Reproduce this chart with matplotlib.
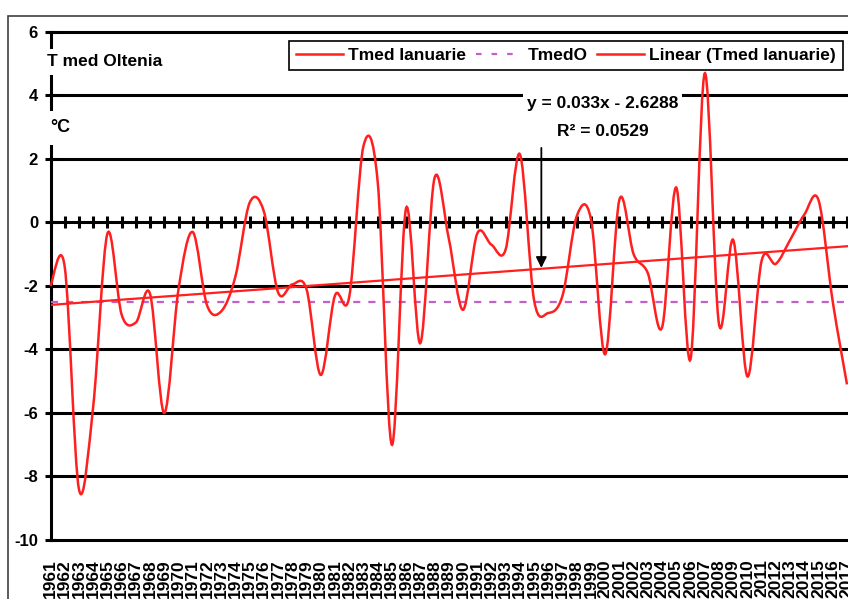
import numpy as np
import matplotlib
matplotlib.use("Agg")
import matplotlib.pyplot as plt
from matplotlib.path import Path
from matplotlib.patches import PathPatch, Rectangle
from matplotlib.lines import Line2D

plt.rcParams['font.family'] = ['Liberation Sans', 'DejaVu Sans']

# ---------------- data ----------------
years = list(range(1961, 2018))
tmed_ianuarie = [
    -2.0, -1.4, -8.4, -5.8, -0.35, -2.9, -3.15, -2.25, -6.0, -2.1,   # 1961-1970
    -0.3, -2.6, -2.8, -1.7, 0.62, 0.35, -2.2, -1.95, -2.1, -4.8,     # 1971-1980
    -2.3, -2.35, 2.4, 1.3, -7.0, 0.45, -3.8, 1.4, -0.5, -2.75,       # 1981-1990
    -0.35, -0.7, -0.85, 2.15, -2.45, -2.85, -2.3, 0.2, 0.1, -4.15,   # 1991-2000
    0.72, -1.0, -1.6, -3.3, 1.1, -4.3, 4.7, -3.2, -0.55, -4.85,      # 2001-2010
    -1.2, -1.3, -0.55, 0.25, 0.7, -2.5, -5.1,                        # 2011-2017
]
tmed_o = -2.5
trend_slope = 0.033
trend_intercept = -2.6288
r_squared = 0.0529
y_ticks = [-10, -8, -6, -4, -2, 0, 2, 4, 6]
year_labels = [str(y) for y in years]

RED = '#ff1f1f'
PURPLE = '#c060c8'

W, H = 848, 599
fig = plt.figure(figsize=(W / 100, H / 100), dpi=100)
fig.patch.set_facecolor('white')

left_px, right_px, top_px, bottom_px = 50.5, 848.0, 32.0, 540.0
ax = fig.add_axes([left_px / W, 1 - bottom_px / H,
                   (right_px - left_px) / W, (bottom_px - top_px) / H])
ax.set_xlim(1961, 2017 + 1.0 / 14.232)
ax.set_ylim(-10, 6)
ax.set_facecolor('white')

for s in ['top', 'right', 'bottom']:
    ax.spines[s].set_visible(False)
ax.spines['left'].set_linewidth(2.2)
ax.spines['left'].set_zorder(2.5)

# gridlines
for v in y_ticks:
    ax.axhline(v, color='black', lw=2.2, zorder=1, clip_on=False)

# y axis
ax.set_yticks(y_ticks)
ax.set_yticklabels([str(v) for v in y_ticks], fontsize=12, fontweight='bold')
ax.tick_params(axis='y', direction='inout', length=8, width=2.2, pad=5)

# x axis labels at bottom
ax.set_xticks(years)
ax.set_xticklabels(year_labels, rotation=90, fontsize=12.5, fontweight='bold',
                   va='top', ha='center')
ax.tick_params(axis='x', length=0, pad=14)

# tick marks on the zero line
sec = ax.secondary_xaxis((0 - (-10)) / 16.0)
sec.set_xticks(years)
sec.set_xticklabels([])
sec.tick_params(axis='x', direction='inout', length=8, width=2.2,
                labelbottom=False, labeltop=False)
for s in sec.spines.values():
    s.set_visible(False)

# smoothed (Catmull-Rom / Excel-like) curve
xs = np.array(years, dtype=float)
ys = np.array(tmed_ianuarie, dtype=float)
pts = np.column_stack([xs, ys])
ext = np.vstack([pts[0], pts, pts[-1]])
verts = [tuple(pts[0])]
codes = [Path.MOVETO]
for i in range(len(pts) - 1):
    p0, p1, p2, p3 = ext[i], ext[i + 1], ext[i + 2], ext[i + 3]
    c1 = p1 + (p2 - p0) / 6.0
    c2 = p2 - (p3 - p1) / 6.0
    verts += [tuple(c1), tuple(c2), tuple(p2)]
    codes += [Path.CURVE4, Path.CURVE4, Path.CURVE4]
curve = PathPatch(Path(verts, codes), fill=False, edgecolor=RED, lw=1.8,
                  zorder=4, transform=ax.transData, clip_on=False)
ax.add_patch(curve)

# TmedO dashed line
dash_line, = ax.plot(years, [tmed_o] * len(years), color=PURPLE, lw=1.6, zorder=3)
dash_line.set_dashes([3.2, 3.6])

# linear trend
idx = np.arange(1, len(years) + 1)
trend = trend_slope * idx + trend_intercept
ax.plot(years, trend, color=RED, lw=1.6, zorder=3.5)

# equation text
ax.text(1999.8, 3.75, "y = 0.033x - 2.6288", ha='center', va='center',
        fontsize=12.5, fontweight='bold', zorder=5,
        bbox=dict(facecolor='white', edgecolor='none', pad=2.5))
ax.text(1999.8, 2.88, "R² = 0.0529", ha='center', va='center',
        fontsize=12.5, fontweight='bold', zorder=5)

# arrow
ax.annotate("", xy=(1995.51, -1.43), xytext=(1995.51, 2.35),
            arrowprops=dict(arrowstyle='-|>', color='black', lw=1.3,
                            mutation_scale=16, shrinkA=0, shrinkB=0),
            zorder=6)

# legend
handles = [Line2D([], [], color=RED, lw=1.8),
           Line2D([], [], color=PURPLE, lw=1.6, dashes=[2.5, 4.5]),
           Line2D([], [], color=RED, lw=1.8)]
labels = ["Tmed Ianuarie", "TmedO", "Linear (Tmed Ianuarie)"]
leg = ax.legend(handles, labels, ncol=3, loc='upper right',
                bbox_to_anchor=(843 / W, 1 - 41 / H), bbox_transform=fig.transFigure,
                frameon=True, fancybox=False, framealpha=1, edgecolor='black',
                prop=dict(size=12.5, weight='bold'), handlelength=2.7,
                handletextpad=0.3, columnspacing=0.55, borderpad=0.4,
                borderaxespad=0)
leg.get_frame().set_linewidth(1.2)
leg.set_zorder(7)

# labels in the plot
fig.text(47 / W, 1 - 62 / H, "T med Oltenia", ha='left', va='center',
         fontsize=12.5, fontweight='bold', zorder=10,
         bbox=dict(facecolor='white', edgecolor='none', pad=4))
fig.text(50 / W, 1 - 128 / H, "°C", ha='left', va='center',
         fontsize=13, fontweight='bold', zorder=10,
         bbox=dict(facecolor='white', edgecolor='none', pad=6))

# chart-area border
fig.patches.append(Rectangle((8 / W, -0.1), 1.2, 1.1 - 16 / H, transform=fig.transFigure,
                             fill=False, edgecolor='#404040', lw=1.2, zorder=0))

fig.savefig("out.png", dpi=100)
